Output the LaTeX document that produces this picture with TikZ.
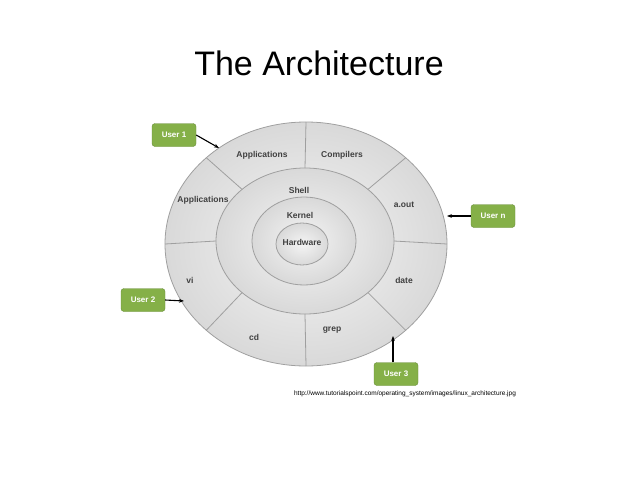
\documentclass[tikz,border=0pt]{standalone}
\usepackage{fontspec}
\setmainfont{Liberation Sans}
\usetikzlibrary{arrows.meta,calc}
\definecolor{usergreen}{RGB}{133,176,72}
\begin{document}
\begin{tikzpicture}[x=1pt,y=-1pt,
  ring/.style={draw=gray!75,line width=0.8pt,inner color=gray!8,outer color=gray!30},
  lbl/.style={font=\fontsize{8.5}{9}\selectfont\bfseries,text=black!75},
  userbox/.style={draw=usergreen!80!black,fill=usergreen,rounded corners=3pt,minimum width=44pt,minimum height=23pt,text=white,font=\fontsize{8}{9}\selectfont\bfseries},
  userarrow/.style={-{Stealth[length=5pt]},line width=1.1pt}]
 \useasboundingbox (0,0) rectangle (638,479);
 \node (title) at (319,63) {\fontsize{34}{38}\selectfont The Architecture};
 %the rings
 \draw[ring] (306,244) ellipse [x radius=141,y radius=122];
 \draw[ring] (305,241) ellipse [x radius=89,y radius=73];
 \draw[ring] (304,241) ellipse [x radius=52,y radius=44];
 \draw[ring] (302,244) ellipse [x radius=26,y radius=21];
 %dividers
 \foreach \t in {0,45,90,135,180,225,270,315}
  \draw[gray!75,line width=0.8pt] ($(305,241)+({89*cos(\t)},{-73*sin(\t)})$)--($(306,244)+({141*cos(\t)},{-122*sin(\t)})$);
 %labels
 \node[lbl] (app1) at (262,155) {Applications};
 \node[lbl] (comp) at (342,155) {Compilers};
 \node[lbl] (app2) at (203,200) {Applications};
 \node[lbl] (aout) at (404,205) {a.out};
 \node[lbl] (vi) at (190,280) {vi};
 \node[lbl] (date) at (404,280) {date};
 \node[lbl] (cd) at (254,337) {cd};
 \node[lbl] (grep) at (332,330) {grep};
 \node[lbl] (shell) at (299,190) {Shell};
 \node[lbl] (kernel) at (300,215) {Kernel};
 \node[lbl] (hw) at (302,242) {Hardware};
 %users
 \node[userbox] (u1) at (174,135) {User 1};
 \node[userbox] (un) at (493,216) {User n};
 \node[userbox] (u2) at (143,300) {User 2};
 \node[userbox] (u3) at (396,374) {User 3};
 \coordinate (e1) at (219,148);
 \coordinate (en) at (447,216);
 \coordinate (e2) at (184,301);
 \coordinate (e3) at (393,336);
 \draw[userarrow] (u1.east)--(e1);
 \draw[userarrow] (un.west)--(en);
 \draw[userarrow] (u2.east)--(e2);
 \draw[userarrow] (u3.north-|e3)--(e3);
 \node[font=\fontsize{6.5}{7}\selectfont] (url) at (405,394) {http://www.tutorialspoint.com/operating\_system/images/linux\_architecture.jpg};
\end{tikzpicture}
\end{document}
